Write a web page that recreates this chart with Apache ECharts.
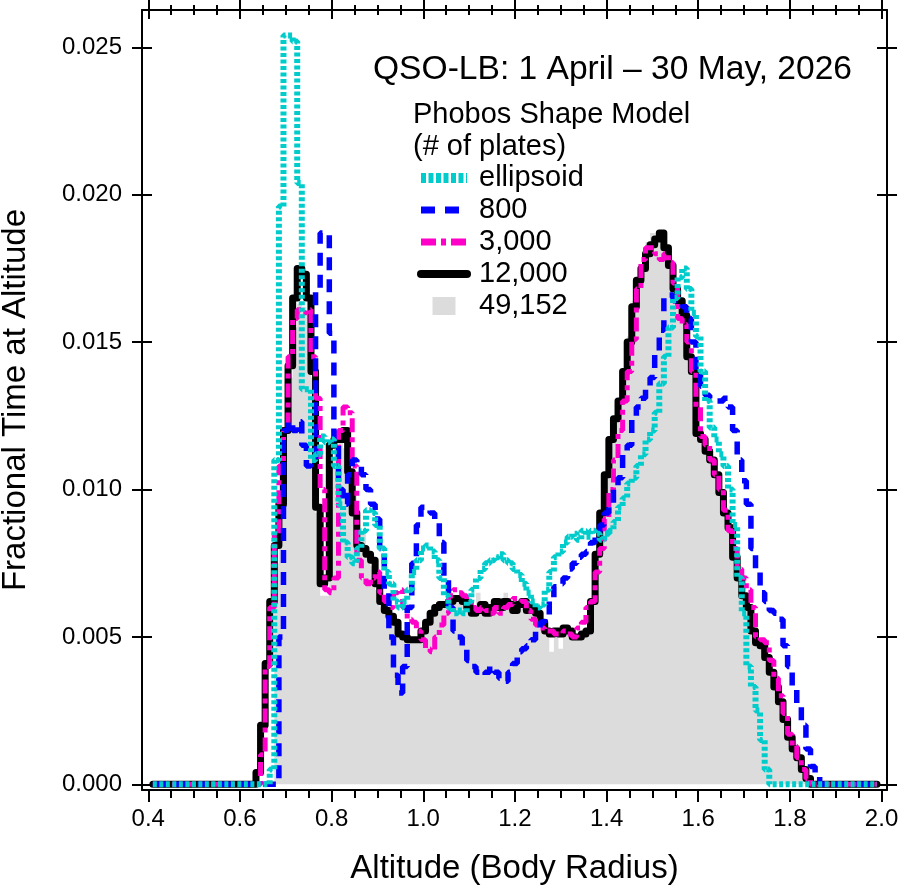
<!DOCTYPE html>
<html><head><meta charset="utf-8">
<script src="https://cdn.jsdelivr.net/npm/echarts@6/dist/echarts.min.js"></script>
<style>html,body{margin:0;padding:0;background:#fff}#chart{width:898px;height:887px}</style>
</head><body><div id="chart"></div>
<script>
// Histogram bins: first bin centre and bin width (altitude, body radii)
const binStart = 0.41, binWidth = 0.01;

const ellipsoid = [
  0,0,0,0,0,0,0,0,0,
  0,0,0,0,0,0,0,0,0,0,
  0,0,0,0,0,0,0,0.0005,0.0110,0.0196,
  0.0254,0.0254,0.0252,0.0204,0.0134,0.0134,0.0110,0.0112,0.0118,0.0116,
  0.0117,0.0108,0.0095,0.0082,0.0077,0.0075,0.0080,0.0086,0.0093,0.0092,
  0.0088,0.0080,0.0072,0.0068,0.0062,0.0060,0.0062,0.0066,0.0072,0.0076,
  0.0080,0.0081,0.0079,0.0076,0.0070,0.0064,0.0060,0.0058,0.0059,0.0058,
  0.0062,0.0066,0.0070,0.0073,0.0075,0.0076,0.0077,0.0078,0.0076,0.0075,
  0.0073,0.0071,0.0068,0.0065,0.0062,0.0060,0.0061,0.0066,0.0072,0.0077,
  0.0079,0.0082,0.0084,0.0085,0.0083,0.0086,0.0084,0.0086,0.0085,0.0083,
  0.0085,0.0086,0.0089,0.0094,0.0097,0.0102,0.0104,0.0108,0.0112,0.0117,
  0.0120,0.0126,0.0136,0.0145,0.0155,0.0165,0.0172,0.0175,0.0168,0.0160,
  0.0152,0.0140,0.0130,0.0121,0.0117,0.0112,0.0108,0.0100,0.0088,0.0070,
  0.0058,0.0040,0.0033,0.0025,0.0015,0.0005,0,0,0,0,
  0,0,0,0,0,0,0,0,0,0,
  0,0,0,0,0,0,0,0,0,0
];
const plates800 = [
  0,0,0,0,0,0,0,0,0,
  0,0,0,0,0,0,0,0,0,0,
  0,0,0,0,0,0,0,0,0,0.0050,
  0.0120,0.0123,0.0120,0.0123,0.0115,0.0108,0.0110,0.0168,0.0187,0.0187,
  0.0153,0.0117,0.0100,0.0095,0.0105,0.0110,0.0108,0.0105,0.0100,0.0095,
  0.0090,0.0080,0.0065,0.0050,0.0037,0.0031,0.0040,0.0060,0.0075,0.0088,
  0.0094,0.0093,0.0092,0.0090,0.0082,0.0070,0.0060,0.0052,0.0050,0.0046,
  0.0042,0.0040,0.0038,0.0037,0.0038,0.0040,0.0038,0.0036,0.0035,0.0038,
  0.0041,0.0045,0.0046,0.0047,0.0049,0.0052,0.0055,0.0057,0.0063,0.0067,
  0.0068,0.0070,0.0073,0.0075,0.0077,0.0078,0.0079,0.0082,0.0084,0.0088,
  0.0092,0.0095,0.0100,0.0104,0.0113,0.0115,0.0124,0.0128,0.0131,0.0134,
  0.0138,0.0146,0.0154,0.0166,0.0166,0.0164,0.0163,0.0162,0.0158,0.0150,
  0.0140,0.0135,0.0132,0.0131,0.0130,0.0130,0.0131,0.0128,0.0120,0.0110,
  0.0103,0.0095,0.0080,0.0072,0.0065,0.0062,0.0059,0.0058,0.0056,0.0047,
  0.0040,0.0033,0.0027,0.0020,0.0012,0.0006,0.0003,0,0,0,
  0,0,0,0,0,0,0,0,0,0
];
const plates3000 = [
  0,0,0,0,0,0,0,0,0,
  0,0,0,0,0,0,0,0,0,0,
  0,0,0,0,0,0.0010,0.0040,0.0060,0.0085,0.0108,
  0.0120,0.0145,0.0158,0.0161,0.0160,0.0161,0.0145,0.0131,0.0100,0.0066,
  0.0065,0.0070,0.0120,0.0128,0.0126,0.0108,0.0076,0.0070,0.0068,0.0070,
  0.0072,0.0065,0.0062,0.0060,0.0065,0.0066,0.0060,0.0056,0.0055,0.0052,
  0.0049,0.0046,0.0045,0.0050,0.0054,0.0058,0.0064,0.0066,0.0065,0.0064,
  0.0062,0.0060,0.0059,0.0060,0.0059,0.0058,0.0060,0.0058,0.0060,0.0061,
  0.0063,0.0063,0.0062,0.0059,0.0056,0.0054,0.0053,0.0052,0.0052,0.0051,
  0.0051,0.0052,0.0051,0.0050,0.0053,0.0055,0.0060,0.0062,0.0072,0.0080,
  0.0090,0.0100,0.0110,0.0120,0.0130,0.0140,0.0151,0.0168,0.0178,0.0182,
  0.0182,0.0180,0.0178,0.0180,0.0177,0.0170,0.0158,0.0156,0.0150,0.0140,
  0.0128,0.0118,0.0115,0.0110,0.0105,0.0100,0.0093,0.0086,0.0080,0.0073,
  0.0070,0.0066,0.0060,0.0050,0.0049,0.0048,0.0042,0.0036,0.0030,0.0024,
  0.0017,0.0013,0.0009,0.0005,0.0002,0,0,0,0,0,
  0,0,0,0,0,0,0,0,0,0
];
const plates12000 = [
  0,0,0,0,0,0,0,0,0,
  0,0,0,0,0,0,0,0,0,0,
  0,0,0,0,0.0004,0.0020,0.0041,0.0062,0.0081,0.0095,
  0.0120,0.0142,0.0165,0.0175,0.0173,0.0165,0.0140,0.0094,0.0068,0.0070,
  0.0115,0.0117,0.0117,0.0120,0.0106,0.0092,0.0081,0.0080,0.0078,0.0076,
  0.0068,0.0062,0.0059,0.0057,0.0055,0.0051,0.0050,0.0049,0.0049,0.0049,
  0.0052,0.0055,0.0058,0.0060,0.0061,0.0061,0.0062,0.0063,0.0063,0.0062,
  0.0060,0.0058,0.0059,0.0061,0.0058,0.0060,0.0062,0.0060,0.0062,0.0061,
  0.0059,0.0061,0.0062,0.0059,0.0060,0.0058,0.0055,0.0052,0.0051,0.0052,
  0.0051,0.0053,0.0052,0.0050,0.0050,0.0051,0.0052,0.0062,0.0078,0.0092,
  0.0105,0.0117,0.0124,0.0130,0.0140,0.0150,0.0162,0.0171,0.0175,0.0180,
  0.0183,0.0185,0.0187,0.0182,0.0176,0.0168,0.0164,0.0159,0.0145,0.0140,
  0.0119,0.0117,0.0113,0.0110,0.0105,0.0099,0.0092,0.0087,0.0077,0.0070,
  0.0064,0.0060,0.0052,0.0048,0.0047,0.0043,0.0038,0.0033,0.0028,0.0022,
  0.0016,0.0012,0.0009,0.0005,0.0002,0,0,0,0,0,
  0,0,0,0,0,0,0,0,0,0
];
const plates49152 = [
  0,0,0,0,0,0,0,0,0,
  0,0,0,0,0,0,0,0,0,0,
  0,0,0,0,0,0,0,0,0.0075,0.0110,
  0.0120,0.0138,0.0155,0.0163,0.0162,0.0160,0.0138,0.0092,0.0064,0.0064,
  0.0110,0.0114,0.0116,0.0114,0.0104,0.0099,0.0086,0.0085,0.0077,0.0074,
  0.0066,0.0060,0.0058,0.0056,0.0054,0.0050,0.0049,0.0048,0.0048,0.0048,
  0.0051,0.0054,0.0057,0.0059,0.0060,0.0060,0.0061,0.0062,0.0062,0.0061,
  0.0059,0.0057,0.0065,0.0060,0.0057,0.0059,0.0061,0.0059,0.0065,0.0060,
  0.0058,0.0060,0.0061,0.0058,0.0059,0.0057,0.0054,0.0051,0.0045,0.0051,
  0.0046,0.0052,0.0051,0.0049,0.0049,0.0050,0.0051,0.0061,0.0077,0.0091,
  0.0104,0.0116,0.0123,0.0129,0.0139,0.0152,0.0164,0.0172,0.0176,0.0184,
  0.0187,0.0185,0.0184,0.0181,0.0175,0.0167,0.0163,0.0158,0.0144,0.0139,
  0.0120,0.0116,0.0112,0.0109,0.0104,0.0098,0.0091,0.0086,0.0076,0.0069,
  0.0063,0.0059,0.0051,0.0047,0.0046,0.0042,0.0037,0.0032,0.0027,0.0021,
  0.0015,0.0011,0.0008,0.0004,0.0001,0,0,0,0,0,
  0,0,0,0,0,0,0,0,0,0
];

const xMajorTicks = [0.4, 0.6, 0.8, 1.0, 1.2, 1.4, 1.6, 1.8, 2.0];
const xMinorTicks = [0.45,0.5,0.55,0.65,0.7,0.75,0.85,0.9,0.95,1.05,1.1,1.15,1.25,1.3,1.35,1.45,1.5,1.55,1.65,1.7,1.75,1.85,1.9,1.95];
const yMajorTicks = [0, 0.005, 0.010, 0.015, 0.020, 0.025];

const titleText = 'QSO-LB: 1 April \u2013 30 May, 2026';
const legendTitle = 'Phobos Shape Model\n(# of plates)';
const xName = 'Altitude (Body Radius)';
const yName = 'Fractional Time at Altitude';

const X_MIN = 0.3863, X_MAX = 2.0119;
const Y_MIN = -0.000193, Y_MAX = 0.026266;
const FONT = "'Liberation Sans', Arial, Helvetica, sans-serif";

const toPoints = vals => vals.map((v, i) => [+(binStart + i * binWidth).toFixed(2), v]);

function xAxisDef(pos, ticks, len, inside, withLine, extra) {
  return Object.assign({
    type: 'value', position: pos, min: X_MIN, max: X_MAX,
    splitLine: { show: false },
    axisLine: { show: withLine, onZero: false, lineStyle: { color: '#000', width: 2 } },
    axisTick: { show: true, inside: inside, length: len, customValues: ticks, lineStyle: { color: '#000', width: 2 } },
    axisLabel: { show: false }
  }, extra || {});
}
function yAxisDef(pos, len, inside, withLine, extra) {
  return Object.assign({
    type: 'value', position: pos, min: Y_MIN, max: Y_MAX,
    splitLine: { show: false },
    axisLine: { show: withLine, onZero: false, lineStyle: { color: '#000', width: 2 } },
    axisTick: { show: true, inside: inside, length: len, customValues: yMajorTicks, lineStyle: { color: '#000', width: 2 } },
    axisLabel: { show: false }
  }, extra || {});
}

const chart = echarts.init(document.getElementById('chart'), null, { renderer: 'canvas' });
chart.setOption({
  animation: false,
  backgroundColor: '#fff',
  textStyle: { fontFamily: FONT },
  grid: { left: 142, right: 11, top: 10, bottom: 97, containLabel: false, outerBoundsMode: 'none' },
  title: [
    { text: titleText, left: 373, top: 53, padding: 0,
      textStyle: { fontSize: 33.6, fontWeight: 'normal', color: '#000', fontFamily: FONT } },
    { text: legendTitle, left: 413, top: 99, padding: 0,
      textStyle: { fontSize: 29, lineHeight: 32, fontWeight: 'normal', color: '#000', fontFamily: FONT } }
  ],
  legend: {
    orient: 'vertical', left: 416, top: 162, padding: 0,
    itemWidth: 46, itemHeight: 18, itemGap: 0, selectedMode: false,
    textStyle: { fontSize: 29, lineHeight: 32, color: '#000', fontFamily: FONT, padding: [0, 0, 0, 7] },
    data: [
      { name: 'ellipsoid', itemStyle: { opacity: 0 }, lineStyle: { width: 10, color: '#00cccc', type: [5, 2.5] } },
      { name: '800', itemStyle: { opacity: 0 }, lineStyle: { width: 7, color: '#0000ff', type: [14, 10] } },
      { name: '3,000', itemStyle: { opacity: 0 }, lineStyle: { width: 7, color: '#ff00c8', type: [15, 5, 5, 5] } },
      { name: '12,000', itemStyle: { opacity: 0 }, lineStyle: { width: 8, color: '#000', type: 'solid' } },
      { name: '49,152', icon: 'path://M0 0H23V18H0Z', itemStyle: { color: '#dcdcdc', opacity: 1 } }
    ]
  },
  xAxis: [
    xAxisDef('bottom', xMajorTicks, 12, false, true, {
      axisLabel: { show: true, customValues: xMajorTicks, margin: 17, fontSize: 24, color: '#000', fontFamily: FONT,
        formatter: v => v.toFixed(1) },
      name: xName, nameLocation: 'middle', nameGap: 62,
      nameTextStyle: { fontSize: 33, color: '#000', fontFamily: FONT }
    }),
    xAxisDef('bottom', xMinorTicks, 8, false, false),
    xAxisDef('top', xMajorTicks, 10, false, true),
    xAxisDef('top', xMajorTicks, 9, true, false),
    xAxisDef('top', xMinorTicks, 5, false, false),
    xAxisDef('top', xMinorTicks, 5, true, false)
  ],
  yAxis: [
    yAxisDef('left', 10, false, true, {
      axisLabel: { show: true, customValues: yMajorTicks, margin: 20, fontSize: 24, color: '#000', fontFamily: FONT,
        formatter: v => v.toFixed(3) },
      name: yName, nameLocation: 'middle', nameGap: 110,
      nameTextStyle: { fontSize: 33, color: '#000', fontFamily: FONT }
    }),
    yAxisDef('left', 10, true, false),
    yAxisDef('right', 10, false, true),
    yAxisDef('right', 10, true, false)
  ],
  series: [
    { name: '49,152', type: 'line', step: 'middle', symbol: 'none', data: toPoints(plates49152),
      color: '#dcdcdc', lineStyle: { width: 0, color: '#dcdcdc' },
      areaStyle: { color: '#dcdcdc', opacity: 1 }, z: 1 },
    { name: '12,000', type: 'line', step: 'middle', symbol: 'none', data: toPoints(plates12000),
      color: '#000', lineStyle: { width: 7, color: '#000', join: 'round', cap: 'round' }, z: 2 },
    { name: '3,000', type: 'line', step: 'middle', symbol: 'none', data: toPoints(plates3000),
      color: '#ff00c8', lineStyle: { width: 5, color: '#ff00c8', type: [14, 5, 5, 5] }, z: 3 },
    { name: '800', type: 'line', step: 'middle', symbol: 'none', data: toPoints(plates800),
      color: '#0000ff', lineStyle: { width: 5.5, color: '#0000ff', type: [13, 9] }, z: 4 },
    { name: 'ellipsoid', type: 'line', step: 'middle', symbol: 'none', data: toPoints(ellipsoid),
      color: '#00cccc', lineStyle: { width: 6, color: '#00cccc', type: [4, 2.5] }, z: 5 }
  ]
});
</script></body></html>
